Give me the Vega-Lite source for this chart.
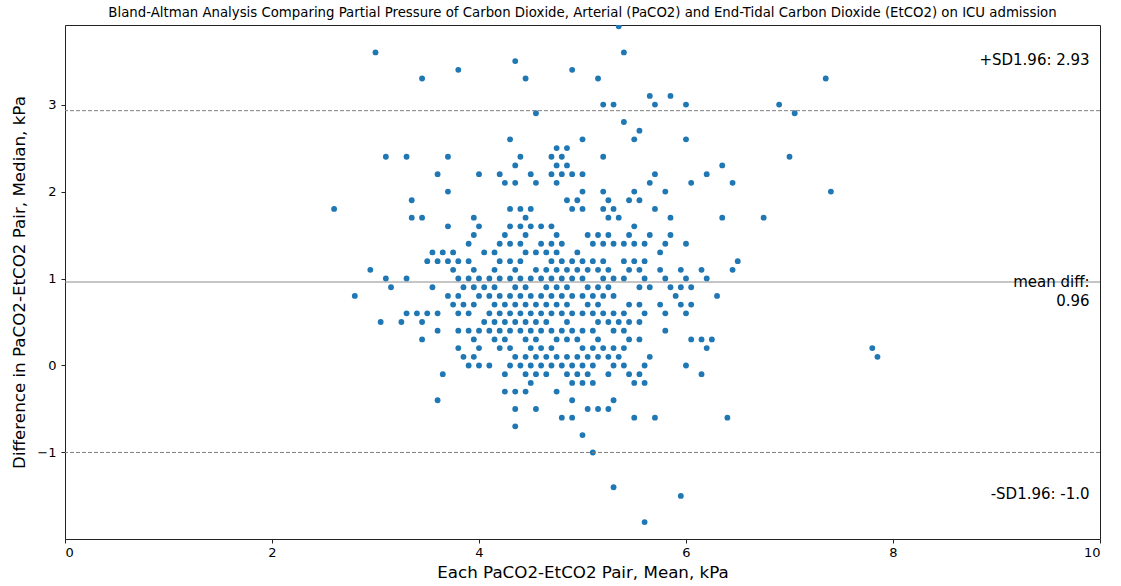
{
  "$schema": "https://vega.github.io/schema/vega-lite/v6.json",
  "autosize": "none",
  "width": 1035,
  "height": 514,
  "padding": {"left": 65, "top": 25, "right": 21, "bottom": 47},
  "background": "white",
  "title": {
    "text": "Bland-Altman Analysis Comparing Partial Pressure of Carbon Dioxide, Arterial (PaCO2) and End-Tidal Carbon Dioxide (EtCO2) on ICU admission",
    "fontSize": 13.3,
    "fontWeight": "normal",
    "font": "DejaVu Sans",
    "color": "#000000",
    "offset": 6
  },
  "config": {
    "font": "DejaVu Sans",
    "view": {"stroke": "#222222", "strokeWidth": 1},
    "axis": {
      "grid": false,
      "domain": false,
      "tickColor": "#222222",
      "tickSize": 4,
      "labelFontSize": 13,
      "labelColor": "#000000",
      "titleFontSize": 16.7,
      "titleFontWeight": "normal",
      "titleColor": "#000000"
    }
  },
  "datasets": {
    "pairs": [
      {"m": 5.35, "d": 3.9},
      {"m": 3.0, "d": 3.6}, {"m": 5.4, "d": 3.6},
      {"m": 4.35, "d": 3.5},
      {"m": 3.8, "d": 3.4}, {"m": 4.9, "d": 3.4},
      {"m": 3.45, "d": 3.3}, {"m": 4.45, "d": 3.3}, {"m": 5.15, "d": 3.3}, {"m": 7.35, "d": 3.3},
      {"m": 5.65, "d": 3.1}, {"m": 5.85, "d": 3.1},
      {"m": 5.2, "d": 3.0}, {"m": 5.3, "d": 3.0}, {"m": 5.7, "d": 3.0}, {"m": 6.0, "d": 3.0}, {"m": 6.9, "d": 3.0},
      {"m": 4.55, "d": 2.9}, {"m": 7.05, "d": 2.9},
      {"m": 5.4, "d": 2.8},
      {"m": 5.55, "d": 2.7},
      {"m": 4.3, "d": 2.6}, {"m": 5.0, "d": 2.6}, {"m": 5.5, "d": 2.6}, {"m": 6.0, "d": 2.6},
      {"m": 4.75, "d": 2.5}, {"m": 4.85, "d": 2.5},
      {"m": 3.1, "d": 2.4}, {"m": 3.3, "d": 2.4}, {"m": 3.7, "d": 2.4}, {"m": 4.4, "d": 2.4}, {"m": 4.7, "d": 2.4}, {"m": 4.8, "d": 2.4}, {"m": 5.2, "d": 2.4}, {"m": 7.0, "d": 2.4},
      {"m": 4.35, "d": 2.3}, {"m": 4.75, "d": 2.3}, {"m": 4.85, "d": 2.3}, {"m": 6.35, "d": 2.3},
      {"m": 3.6, "d": 2.2}, {"m": 4.0, "d": 2.2}, {"m": 4.2, "d": 2.2}, {"m": 4.5, "d": 2.2}, {"m": 4.7, "d": 2.2}, {"m": 4.8, "d": 2.2}, {"m": 4.9, "d": 2.2}, {"m": 5.0, "d": 2.2}, {"m": 5.7, "d": 2.2}, {"m": 6.2, "d": 2.2},
      {"m": 4.25, "d": 2.1}, {"m": 4.35, "d": 2.1}, {"m": 4.55, "d": 2.1}, {"m": 4.75, "d": 2.1}, {"m": 5.65, "d": 2.1}, {"m": 6.05, "d": 2.1}, {"m": 6.45, "d": 2.1},
      {"m": 3.7, "d": 2.0}, {"m": 5.0, "d": 2.0}, {"m": 5.2, "d": 2.0}, {"m": 5.5, "d": 2.0}, {"m": 5.8, "d": 2.0}, {"m": 7.4, "d": 2.0},
      {"m": 3.35, "d": 1.9}, {"m": 4.85, "d": 1.9}, {"m": 4.95, "d": 1.9}, {"m": 5.25, "d": 1.9}, {"m": 5.45, "d": 1.9}, {"m": 5.55, "d": 1.9},
      {"m": 2.6, "d": 1.8}, {"m": 4.3, "d": 1.8}, {"m": 4.4, "d": 1.8}, {"m": 4.5, "d": 1.8}, {"m": 4.9, "d": 1.8}, {"m": 5.0, "d": 1.8}, {"m": 5.2, "d": 1.8}, {"m": 5.3, "d": 1.8}, {"m": 5.7, "d": 1.8},
      {"m": 3.35, "d": 1.7}, {"m": 3.45, "d": 1.7}, {"m": 3.95, "d": 1.7}, {"m": 4.45, "d": 1.7}, {"m": 5.25, "d": 1.7}, {"m": 5.35, "d": 1.7}, {"m": 5.85, "d": 1.7}, {"m": 6.35, "d": 1.7}, {"m": 6.75, "d": 1.7},
      {"m": 3.7, "d": 1.6}, {"m": 4.0, "d": 1.6}, {"m": 4.3, "d": 1.6}, {"m": 4.4, "d": 1.6}, {"m": 4.5, "d": 1.6}, {"m": 4.6, "d": 1.6}, {"m": 4.7, "d": 1.6}, {"m": 5.5, "d": 1.6},
      {"m": 3.95, "d": 1.5}, {"m": 4.25, "d": 1.5}, {"m": 4.45, "d": 1.5}, {"m": 4.75, "d": 1.5}, {"m": 5.05, "d": 1.5}, {"m": 5.15, "d": 1.5}, {"m": 5.25, "d": 1.5}, {"m": 5.45, "d": 1.5}, {"m": 5.65, "d": 1.5}, {"m": 5.85, "d": 1.5},
      {"m": 3.9, "d": 1.4}, {"m": 4.2, "d": 1.4}, {"m": 4.3, "d": 1.4}, {"m": 4.4, "d": 1.4}, {"m": 4.6, "d": 1.4}, {"m": 4.7, "d": 1.4}, {"m": 4.8, "d": 1.4}, {"m": 5.1, "d": 1.4}, {"m": 5.2, "d": 1.4}, {"m": 5.3, "d": 1.4}, {"m": 5.4, "d": 1.4}, {"m": 5.5, "d": 1.4}, {"m": 5.6, "d": 1.4}, {"m": 5.8, "d": 1.4}, {"m": 6.0, "d": 1.4},
      {"m": 3.55, "d": 1.3}, {"m": 3.65, "d": 1.3}, {"m": 3.75, "d": 1.3}, {"m": 4.05, "d": 1.3}, {"m": 4.15, "d": 1.3}, {"m": 4.45, "d": 1.3}, {"m": 4.55, "d": 1.3}, {"m": 4.65, "d": 1.3}, {"m": 4.75, "d": 1.3}, {"m": 4.95, "d": 1.3}, {"m": 5.75, "d": 1.3},
      {"m": 3.5, "d": 1.2}, {"m": 3.6, "d": 1.2}, {"m": 3.7, "d": 1.2}, {"m": 3.8, "d": 1.2}, {"m": 3.9, "d": 1.2}, {"m": 4.2, "d": 1.2}, {"m": 4.3, "d": 1.2}, {"m": 4.4, "d": 1.2}, {"m": 4.7, "d": 1.2}, {"m": 4.8, "d": 1.2}, {"m": 4.9, "d": 1.2}, {"m": 5.0, "d": 1.2}, {"m": 5.1, "d": 1.2}, {"m": 5.2, "d": 1.2}, {"m": 5.4, "d": 1.2}, {"m": 5.5, "d": 1.2}, {"m": 5.6, "d": 1.2}, {"m": 6.5, "d": 1.2},
      {"m": 2.95, "d": 1.1}, {"m": 3.75, "d": 1.1}, {"m": 3.95, "d": 1.1}, {"m": 4.15, "d": 1.1}, {"m": 4.35, "d": 1.1}, {"m": 4.55, "d": 1.1}, {"m": 4.65, "d": 1.1}, {"m": 4.75, "d": 1.1}, {"m": 4.85, "d": 1.1}, {"m": 4.95, "d": 1.1}, {"m": 5.05, "d": 1.1}, {"m": 5.15, "d": 1.1}, {"m": 5.25, "d": 1.1}, {"m": 5.45, "d": 1.1}, {"m": 5.55, "d": 1.1}, {"m": 5.75, "d": 1.1}, {"m": 5.95, "d": 1.1}, {"m": 6.15, "d": 1.1}, {"m": 6.45, "d": 1.1},
      {"m": 3.1, "d": 1.0}, {"m": 3.3, "d": 1.0}, {"m": 3.8, "d": 1.0}, {"m": 3.9, "d": 1.0}, {"m": 4.0, "d": 1.0}, {"m": 4.1, "d": 1.0}, {"m": 4.2, "d": 1.0}, {"m": 4.3, "d": 1.0}, {"m": 4.4, "d": 1.0}, {"m": 4.5, "d": 1.0}, {"m": 4.6, "d": 1.0}, {"m": 4.7, "d": 1.0}, {"m": 4.8, "d": 1.0}, {"m": 4.9, "d": 1.0}, {"m": 5.0, "d": 1.0}, {"m": 5.2, "d": 1.0}, {"m": 5.3, "d": 1.0}, {"m": 5.4, "d": 1.0}, {"m": 5.6, "d": 1.0}, {"m": 5.8, "d": 1.0}, {"m": 6.0, "d": 1.0}, {"m": 6.2, "d": 1.0},
      {"m": 3.15, "d": 0.9}, {"m": 3.55, "d": 0.9}, {"m": 3.85, "d": 0.9}, {"m": 3.95, "d": 0.9}, {"m": 4.05, "d": 0.9}, {"m": 4.15, "d": 0.9}, {"m": 4.35, "d": 0.9}, {"m": 4.45, "d": 0.9}, {"m": 4.65, "d": 0.9}, {"m": 4.75, "d": 0.9}, {"m": 4.85, "d": 0.9}, {"m": 5.05, "d": 0.9}, {"m": 5.15, "d": 0.9}, {"m": 5.25, "d": 0.9}, {"m": 5.55, "d": 0.9}, {"m": 5.65, "d": 0.9}, {"m": 5.85, "d": 0.9}, {"m": 5.95, "d": 0.9}, {"m": 6.05, "d": 0.9},
      {"m": 2.8, "d": 0.8}, {"m": 3.7, "d": 0.8}, {"m": 3.8, "d": 0.8}, {"m": 4.0, "d": 0.8}, {"m": 4.1, "d": 0.8}, {"m": 4.2, "d": 0.8}, {"m": 4.3, "d": 0.8}, {"m": 4.4, "d": 0.8}, {"m": 4.5, "d": 0.8}, {"m": 4.6, "d": 0.8}, {"m": 4.7, "d": 0.8}, {"m": 4.8, "d": 0.8}, {"m": 4.9, "d": 0.8}, {"m": 5.0, "d": 0.8}, {"m": 5.1, "d": 0.8}, {"m": 5.2, "d": 0.8}, {"m": 5.3, "d": 0.8}, {"m": 5.9, "d": 0.8}, {"m": 6.3, "d": 0.8},
      {"m": 3.75, "d": 0.7}, {"m": 3.85, "d": 0.7}, {"m": 3.95, "d": 0.7}, {"m": 4.15, "d": 0.7}, {"m": 4.25, "d": 0.7}, {"m": 4.35, "d": 0.7}, {"m": 4.45, "d": 0.7}, {"m": 4.55, "d": 0.7}, {"m": 4.65, "d": 0.7}, {"m": 4.75, "d": 0.7}, {"m": 4.85, "d": 0.7}, {"m": 5.05, "d": 0.7}, {"m": 5.15, "d": 0.7}, {"m": 5.45, "d": 0.7}, {"m": 5.55, "d": 0.7}, {"m": 5.75, "d": 0.7}, {"m": 5.95, "d": 0.7}, {"m": 6.05, "d": 0.7},
      {"m": 3.3, "d": 0.6}, {"m": 3.4, "d": 0.6}, {"m": 3.5, "d": 0.6}, {"m": 3.6, "d": 0.6}, {"m": 3.8, "d": 0.6}, {"m": 3.9, "d": 0.6}, {"m": 4.1, "d": 0.6}, {"m": 4.2, "d": 0.6}, {"m": 4.3, "d": 0.6}, {"m": 4.4, "d": 0.6}, {"m": 4.5, "d": 0.6}, {"m": 4.6, "d": 0.6}, {"m": 4.7, "d": 0.6}, {"m": 4.8, "d": 0.6}, {"m": 4.9, "d": 0.6}, {"m": 5.0, "d": 0.6}, {"m": 5.1, "d": 0.6}, {"m": 5.2, "d": 0.6}, {"m": 5.3, "d": 0.6}, {"m": 5.4, "d": 0.6}, {"m": 5.6, "d": 0.6}, {"m": 5.8, "d": 0.6}, {"m": 6.0, "d": 0.6},
      {"m": 3.05, "d": 0.5}, {"m": 3.25, "d": 0.5}, {"m": 3.45, "d": 0.5}, {"m": 4.05, "d": 0.5}, {"m": 4.15, "d": 0.5}, {"m": 4.25, "d": 0.5}, {"m": 4.35, "d": 0.5}, {"m": 4.45, "d": 0.5}, {"m": 4.55, "d": 0.5}, {"m": 4.65, "d": 0.5}, {"m": 4.85, "d": 0.5}, {"m": 5.15, "d": 0.5}, {"m": 5.25, "d": 0.5}, {"m": 5.35, "d": 0.5}, {"m": 5.45, "d": 0.5}, {"m": 5.55, "d": 0.5},
      {"m": 3.6, "d": 0.4}, {"m": 3.8, "d": 0.4}, {"m": 3.9, "d": 0.4}, {"m": 4.0, "d": 0.4}, {"m": 4.1, "d": 0.4}, {"m": 4.2, "d": 0.4}, {"m": 4.3, "d": 0.4}, {"m": 4.4, "d": 0.4}, {"m": 4.5, "d": 0.4}, {"m": 4.6, "d": 0.4}, {"m": 4.7, "d": 0.4}, {"m": 4.8, "d": 0.4}, {"m": 4.9, "d": 0.4}, {"m": 5.0, "d": 0.4}, {"m": 5.1, "d": 0.4}, {"m": 5.3, "d": 0.4}, {"m": 5.4, "d": 0.4}, {"m": 5.8, "d": 0.4},
      {"m": 3.45, "d": 0.3}, {"m": 3.95, "d": 0.3}, {"m": 4.15, "d": 0.3}, {"m": 4.25, "d": 0.3}, {"m": 4.45, "d": 0.3}, {"m": 4.55, "d": 0.3}, {"m": 4.75, "d": 0.3}, {"m": 4.85, "d": 0.3}, {"m": 4.95, "d": 0.3}, {"m": 5.15, "d": 0.3}, {"m": 5.45, "d": 0.3}, {"m": 5.55, "d": 0.3}, {"m": 6.05, "d": 0.3}, {"m": 6.15, "d": 0.3}, {"m": 6.25, "d": 0.3},
      {"m": 3.8, "d": 0.2}, {"m": 4.0, "d": 0.2}, {"m": 4.2, "d": 0.2}, {"m": 4.3, "d": 0.2}, {"m": 4.5, "d": 0.2}, {"m": 4.6, "d": 0.2}, {"m": 4.7, "d": 0.2}, {"m": 5.0, "d": 0.2}, {"m": 5.1, "d": 0.2}, {"m": 5.2, "d": 0.2}, {"m": 5.3, "d": 0.2}, {"m": 5.4, "d": 0.2}, {"m": 6.2, "d": 0.2}, {"m": 7.8, "d": 0.2},
      {"m": 3.85, "d": 0.1}, {"m": 3.95, "d": 0.1}, {"m": 4.35, "d": 0.1}, {"m": 4.45, "d": 0.1}, {"m": 4.55, "d": 0.1}, {"m": 4.65, "d": 0.1}, {"m": 4.75, "d": 0.1}, {"m": 4.85, "d": 0.1}, {"m": 4.95, "d": 0.1}, {"m": 5.05, "d": 0.1}, {"m": 5.15, "d": 0.1}, {"m": 5.25, "d": 0.1}, {"m": 5.35, "d": 0.1}, {"m": 5.65, "d": 0.1}, {"m": 7.85, "d": 0.1},
      {"m": 3.9, "d": 0.0}, {"m": 4.0, "d": 0.0}, {"m": 4.1, "d": 0.0}, {"m": 4.3, "d": 0.0}, {"m": 4.4, "d": 0.0}, {"m": 4.5, "d": 0.0}, {"m": 4.6, "d": 0.0}, {"m": 4.7, "d": 0.0}, {"m": 4.8, "d": 0.0}, {"m": 4.9, "d": 0.0}, {"m": 5.0, "d": 0.0}, {"m": 5.1, "d": 0.0}, {"m": 5.3, "d": 0.0}, {"m": 5.4, "d": 0.0}, {"m": 5.6, "d": 0.0}, {"m": 6.0, "d": 0.0},
      {"m": 3.65, "d": -0.1}, {"m": 4.25, "d": -0.1}, {"m": 4.45, "d": -0.1}, {"m": 4.55, "d": -0.1}, {"m": 4.65, "d": -0.1}, {"m": 4.85, "d": -0.1}, {"m": 4.95, "d": -0.1}, {"m": 5.05, "d": -0.1}, {"m": 5.25, "d": -0.1}, {"m": 5.45, "d": -0.1}, {"m": 5.55, "d": -0.1}, {"m": 6.15, "d": -0.1},
      {"m": 4.5, "d": -0.2}, {"m": 4.9, "d": -0.2}, {"m": 5.0, "d": -0.2}, {"m": 5.1, "d": -0.2}, {"m": 5.5, "d": -0.2}, {"m": 5.6, "d": -0.2},
      {"m": 4.25, "d": -0.3}, {"m": 4.35, "d": -0.3}, {"m": 4.45, "d": -0.3}, {"m": 4.75, "d": -0.3},
      {"m": 3.6, "d": -0.4}, {"m": 4.9, "d": -0.4}, {"m": 5.3, "d": -0.4},
      {"m": 4.35, "d": -0.5}, {"m": 4.55, "d": -0.5}, {"m": 5.05, "d": -0.5}, {"m": 5.15, "d": -0.5}, {"m": 5.25, "d": -0.5},
      {"m": 4.8, "d": -0.6}, {"m": 4.9, "d": -0.6}, {"m": 5.5, "d": -0.6}, {"m": 5.7, "d": -0.6}, {"m": 6.4, "d": -0.6},
      {"m": 4.35, "d": -0.7},
      {"m": 5.0, "d": -0.8},
      {"m": 5.1, "d": -1.0},
      {"m": 5.3, "d": -1.4},
      {"m": 5.95, "d": -1.5},
      {"m": 5.6, "d": -1.8}
    ],
    "stats": [
      {"key": "mean", "value": 0.96},
      {"key": "upper", "value": 2.93},
      {"key": "lower", "value": -1.0}
    ]
  },
  "layer": [
    {
      "data": {"name": "pairs"},
      "mark": {"type": "circle", "size": 34, "opacity": 1, "color": "#1f77b4", "clip": true},
      "encoding": {
        "x": {
          "field": "m",
          "type": "quantitative",
          "scale": {"domain": [0, 10], "nice": false, "zero": false},
          "axis": {"values": [0, 2, 4, 6, 8, 10], "format": "d", "title": "Each PaCO2-EtCO2 Pair, Mean, kPa", "labelPadding": 3, "titlePadding": 5}
        },
        "y": {
          "field": "d",
          "type": "quantitative",
          "scale": {"domain": [-1.995, 3.915], "nice": false, "zero": false},
          "axis": {"values": [-1, 0, 1, 2, 3], "format": "d", "title": "Difference in PaCO2-EtCO2 Pair, Median, kPa", "labelPadding": 5, "titlePadding": 8}
        }
      }
    },
    {
      "data": {"name": "stats"},
      "transform": [{"filter": "datum.key === 'mean'"}],
      "mark": {"type": "rule", "color": "#8c8c8c", "strokeWidth": 1},
      "encoding": {"y": {"field": "value", "type": "quantitative"}}
    },
    {
      "data": {"name": "stats"},
      "transform": [{"filter": "datum.key !== 'mean'"}],
      "mark": {"type": "rule", "color": "#808080", "strokeWidth": 1, "strokeDash": [4, 2]},
      "encoding": {"y": {"field": "value", "type": "quantitative"}}
    },
    {
      "data": {"name": "stats"},
      "transform": [{"filter": "datum.key === 'upper'"}],
      "mark": {"type": "text", "text": "+SD1.96: 2.93", "align": "right", "baseline": "middle", "fontSize": 15, "color": "#000000", "dy": -51},
      "encoding": {"x": {"datum": 9.9}, "y": {"field": "value", "type": "quantitative"}}
    },
    {
      "data": {"name": "stats"},
      "transform": [{"filter": "datum.key === 'mean'"}],
      "mark": {"type": "text", "text": ["mean diff:", "0.96"], "align": "right", "baseline": "middle", "fontSize": 15, "lineHeight": 19, "color": "#000000"},
      "encoding": {"x": {"datum": 9.9}, "y": {"field": "value", "type": "quantitative"}}
    },
    {
      "data": {"name": "stats"},
      "transform": [{"filter": "datum.key === 'lower'"}],
      "mark": {"type": "text", "text": "-SD1.96: -1.0", "align": "right", "baseline": "middle", "fontSize": 15, "color": "#000000", "dy": 42},
      "encoding": {"x": {"datum": 9.9}, "y": {"field": "value", "type": "quantitative"}}
    }
  ]
}
